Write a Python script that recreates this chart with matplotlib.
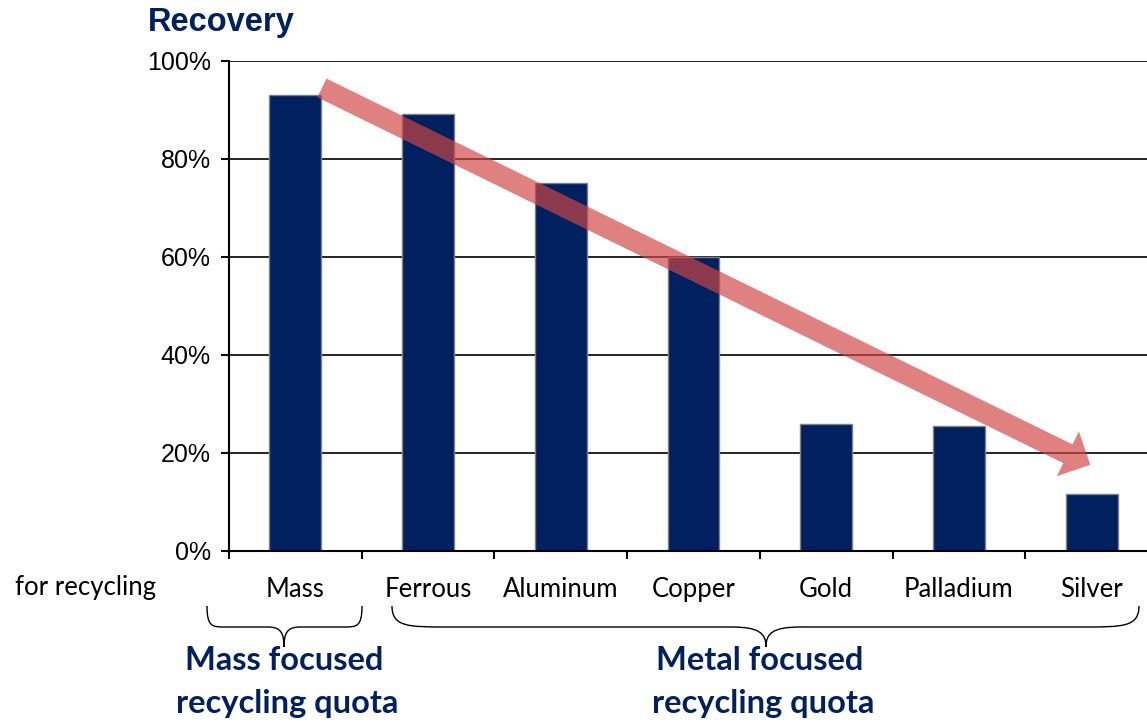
import matplotlib
matplotlib.use("Agg")
import matplotlib.pyplot as plt
from matplotlib.path import Path
from matplotlib.patches import PathPatch
import numpy as np

categories = ["Mass", "Ferrous", "Aluminum", "Copper", "Gold", "Palladium", "Silver"]
recovery = [93.1, 89.2, 75.1, 60.0, 25.9, 25.5, 11.6]
yticks = [0, 20, 40, 60, 80, 100]
ytick_labels = ["0%", "20%", "40%", "60%", "80%", "100%"]

NAVY = "#002060"
W, H = 1147, 722
fig = plt.figure(figsize=(W / 100, H / 100), dpi=100)

def fx(px):
    return px / W

def fy(py):
    return 1 - py / H

left, right = 229, 1158
top, bottom = 61, 551
ax = fig.add_axes([fx(left), fy(bottom), fx(right) - fx(left), fy(top) - fy(bottom)])

x = np.arange(len(categories))
ax.bar(x, recovery, width=0.39, color=NAVY, edgecolor="#808080", linewidth=1.0, zorder=2)
ax.set_xlim(-0.5, len(categories) - 0.5)
ax.set_ylim(0, 100)
ax.set_axisbelow(True)
ax.yaxis.grid(True, color="black", linewidth=1.2)
for s in ["top", "right"]:
    ax.spines[s].set_visible(False)
ax.spines["left"].set_linewidth(1.5)
ax.spines["bottom"].set_linewidth(1.5)

ax.set_yticks(yticks)
ax.set_yticklabels(ytick_labels, fontfamily="Liberation Sans", fontsize=18)
ax.tick_params(axis="y", length=6, width=1.5, pad=7)

ax.set_xticks(x)
ax.set_xticklabels(categories, fontfamily="Lato", fontsize=18.5)
ax.tick_params(axis="x", which="major", length=0, pad=19)
ax.set_xticks(np.arange(-0.5, len(categories), 1.0), minor=True)
ax.tick_params(axis="x", which="minor", length=6, width=1.5, direction="out")

# trend arrow
ax.annotate("", xy=(5.99, 17.6), xytext=(0.2, 94.5),
            arrowprops=dict(arrowstyle="simple,head_length=1.2,head_width=2.4,tail_width=1.0",
                            mutation_scale=15, color="#D04545", alpha=0.68,
                            shrinkA=0, shrinkB=0, linewidth=0),
            zorder=5)

# titles / labels
fig.text(fx(148), fy(22), "Recovery", fontfamily="Liberation Sans", fontweight="bold",
         fontsize=23.5, color=NAVY, ha="left", va="center")
fig.text(fx(15), fy(588), "for recycling", fontfamily="Lato", fontsize=18.5,
         color="black", ha="left", va="center")

def brace(x0, x1, xc, ytop, ymid, ytip, edx, cdx):
    verts = [
        (x0, ytop),
        (x0, ymid), (x0 + edx * 0.3, ymid), (x0 + edx, ymid),
        (xc - cdx, ymid),
        (xc - cdx * 0.2, ymid), (xc, ymid + 0.3 * (ytip - ymid)), (xc, ytip),
        (xc, ymid + 0.3 * (ytip - ymid)), (xc + cdx * 0.2, ymid), (xc + cdx, ymid),
        (x1 - edx, ymid),
        (x1 - edx * 0.3, ymid), (x1, ymid), (x1, ytop),
    ]
    codes = [Path.MOVETO,
             Path.CURVE4, Path.CURVE4, Path.CURVE4,
             Path.LINETO,
             Path.CURVE4, Path.CURVE4, Path.CURVE4,
             Path.CURVE4, Path.CURVE4, Path.CURVE4,
             Path.LINETO,
             Path.CURVE4, Path.CURVE4, Path.CURVE4]
    verts = [(fx(a), fy(b)) for a, b in verts]
    p = PathPatch(Path(verts, codes), facecolor="none", edgecolor="black",
                  linewidth=1.0, transform=fig.transFigure)
    fig.add_artist(p)

brace(207, 362, 284, 606, 627, 647, 18, 16)
brace(392, 1139, 766, 606, 627, 647, 55, 35)

for cx, lines in [(284, ["Mass focused", "recycling quota"]),
                  (760, ["Metal focused", "recycling quota"])]:
    fig.text(fx(cx), fy(661), lines[0], fontfamily="Lato", fontweight="bold",
             fontsize=23.5, color=NAVY, ha="center", va="center")
    fig.text(fx(cx + 3), fy(704), lines[1], fontfamily="Lato", fontweight="bold",
             fontsize=23.5, color=NAVY, ha="center", va="center")

fig.savefig("out.png", dpi=100)
